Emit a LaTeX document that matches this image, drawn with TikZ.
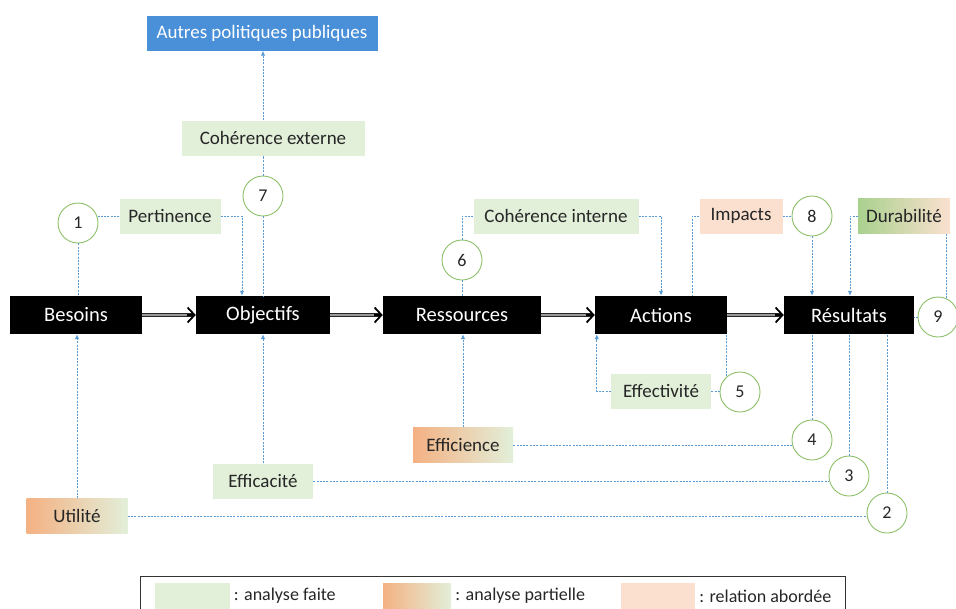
\documentclass[tikz,border=0pt]{standalone}
\usepackage{fontspec}
\setmainfont{Carlito}
\usetikzlibrary{arrows.meta}
\definecolor{vertclair}{HTML}{E2EFD9}
\definecolor{vertfonce}{HTML}{A9D18E}
\definecolor{orangec}{HTML}{F4B183}
\definecolor{peche}{HTML}{FBE0D0}
\definecolor{bleu}{HTML}{4A90D9}
\definecolor{traitbleu}{HTML}{5B9BD5}
\definecolor{vertcercle}{HTML}{8CC068}
\begin{document}
\begin{tikzpicture}[x=1pt,y=-1pt,
    etape/.style={fill=black,text=white,minimum height=38pt,inner sep=0pt,
      font=\fontsize{20.5}{22}\selectfont},
    crit/.style={text=black!85,minimum height=35pt,inner sep=0pt,
      font=\fontsize{19}{21}\selectfont},
    faite/.style={crit,fill=vertclair},
    partielle/.style={crit,left color=orangec,right color=vertclair},
    abordee/.style={crit,fill=peche},
    durable/.style={crit,left color=vertfonce,right color=peche},
    num/.style={draw=vertcercle,line width=0.9pt,circle,fill=white,minimum size=40pt,
      inner sep=0pt,text=black!85,font=\fontsize{18}{20}\selectfont},
    lien/.style={draw=traitbleu,dash pattern=on 2pt off 1.3pt,line width=0.9pt},
    fl/.style={lien,-{Latex[length=5pt,width=4.5pt]}},
    suite/.style={draw=black!85,double=black!40,double distance=2.4pt,line width=1pt,
      shorten >=2pt},
    pointe/.style={draw=black,line width=1.8pt,-{Straight Barb[length=7pt,width=15pt]}}]
  \useasboundingbox (0,0) rectangle (956,608);
  \def \Etapes{
    bes/76/132/Besoins,
    obj/263/134/Objectifs,
    res/462/158/Ressources,
    act/661/132/Actions,
    resu/849/130/Résultats}
  \def \Criteres{
    pert/170/216/101/faite/Pertinence,
    cext/273/138/183/faite/Cohérence externe,
    cint/556/216/165/faite/Cohérence interne,
    imp/741/216/83/abordee/Impacts,
    dur/904/216/92/durable/Durabilité,
    eff/661/391/100/faite/Effectivité,
    effi/463/445/100/partielle/Efficience,
    effa/263/481/100/faite/Efficacité,
    uti/77/516/101/partielle/Utilité}
  \def \Cercles{
    1/78/223,
    2/887/513,
    3/849/476,
    4/812/440,
    5/740/392,
    6/462/260,
    7/263/196,
    8/812/216,
    9/938/317}
  \foreach \id / \x / \w / \t in \Etapes{
    \node[etape,minimum width=\w pt] (\id) at (\x, 315) {\t};
  }
  \foreach \id / \x / \y / \w / \s / \t in \Criteres{
    \node[\s,minimum width=\w pt] (\id) at (\x, \y) {\t};
  }
  \foreach \id / \x / \y in \Cercles{
    \node[num] (c\id) at (\x, \y) {\id};
  }
  \node[fill=bleu,text=white,minimum width=231pt,minimum height=35pt,inner sep=0pt,
    font=\fontsize{19}{21}\selectfont] (aut) at (262, 33) {Autres politiques publiques};
  \foreach \a / \b in {bes/obj, obj/res, res/act, act/resu}{
    \path[suite] (\a) -- (\b);
    \path[pointe] ([xshift=-9pt]\b.west) -- (\b.west);
  }
  % pertinence, coherence externe
  \path[lien] (pert.west) -- (pert.west -| c1.east);
  \path[fl] (pert.east) -| ([xshift=-21pt]obj.north);
  \path[lien] (c1.south) -- (c1.south |- bes.north);
  \path[lien] (c7.south) -- (c7.south |- obj.north);
  \path[lien] (c7.north) -- (c7.north |- cext.south);
  \path[fl] (c7.north |- cext.north) -- (c7.north |- aut.south);
  % utilite, efficacite, efficience
  \path[fl] (uti.north) -- (uti.north |- bes.south);
  \path[lien] (uti.east) -- (uti.east -| c2.west);
  \path[lien] (c2.north) -- (c2.north |- resu.south);
  \path[fl] (effa.north) -- (effa.north |- obj.south);
  \path[lien] (effa.east) -- (effa.east -| c3.west);
  \path[lien] (c3.north) -- (c3.north |- resu.south);
  \path[fl] (effi.north) -- (effi.north |- res.south);
  \path[lien] (effi.east) -- (effi.east -| c4.west);
  \path[lien] (c4.north) -- (c4.north |- resu.south);
  % effectivite, coherence interne
  \path[fl] (eff.west) -| ([xshift=2pt]act.south west);
  \path[lien] (eff.east) -- (eff.east -| c5.west);
  \path[lien] (c5.130) -- (c5.130 |- act.south);
  \path[lien] (cint.west) -| (c6.north);
  \path[lien] (c6.south) -- (c6.south |- res.north);
  \path[fl] (cint.east) -| (act.north);
  % impacts, durabilite
  \path[lien] (imp.west) -| ([xshift=31pt]act.north);
  \path[lien] (imp.east) -- (imp.east -| c8.west);
  \path[fl] (c8.south) -- (c8.south |- resu.north);
  \path[fl] (dur.west) -| ([xshift=1pt]resu.north);
  \path[lien] (c9.65) -- (c9.65 |- dur.south);
  \path[lien] (c9.west) -- (c9.west -| resu.east);
  % legende
  \node[draw=black!80,line width=0.8pt,minimum width=705pt,minimum height=36pt,
    inner sep=0pt] (leg) at (492.5, 594) {};
  \node[fill=vertclair,minimum width=75pt,minimum height=26pt,inner sep=0pt] (sw1) at (192, 596) {};
  \node[left color=orangec,right color=vertclair,minimum width=68pt,minimum height=26pt,
    inner sep=0pt] (sw2) at (417, 596) {};
  \node[fill=peche,minimum width=74pt,minimum height=26pt,inner sep=0pt] (sw3) at (658, 596) {};
  \foreach \s / \t in {sw1/: analyse faite, sw2/: analyse partielle, sw3/: relation abordée}{
    \node[anchor=west,inner sep=4pt,text=black!85,font=\fontsize{18}{20}\selectfont]
      (t\s) at (\s.east) {\t};
  }
\end{tikzpicture}
\end{document}
